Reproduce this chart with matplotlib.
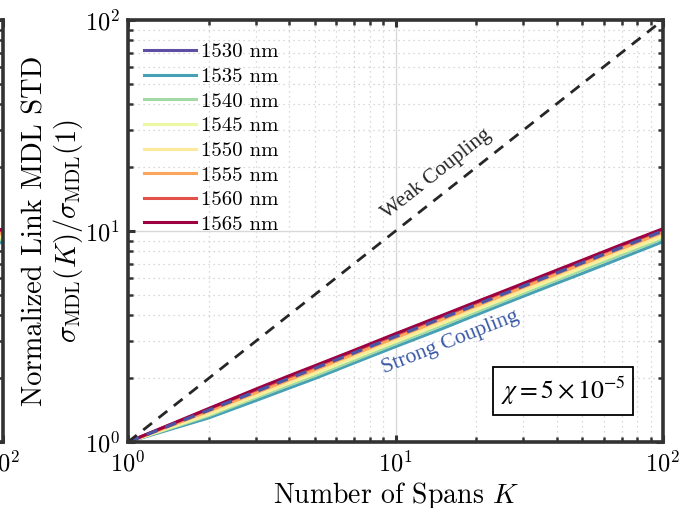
import numpy as np
import matplotlib.pyplot as plt

plt.rcParams['font.family'] = ['cmr10', 'DejaVu Serif']
plt.rcParams['mathtext.fontset'] = 'cm'
plt.rcParams['axes.unicode_minus'] = False
plt.rcParams['axes.formatter.use_mathtext'] = True

# number of spans and normalized MDL std per wavelength
K = [1, 2, 3, 4, 5, 7, 10, 15, 20, 30, 40, 50, 70, 100]
wavelengths = ['1530 nm', '1535 nm', '1540 nm', '1545 nm',
               '1550 nm', '1555 nm', '1560 nm', '1565 nm']
mdl_1530 = [1, 1.42, 1.73, 2.00, 2.23, 2.63, 3.14, 3.84, 4.42, 5.35, 6.00, 6.80, 8.15, 9.70]
mdl_1535 = [1, 1.30, 1.57, 1.80, 2.00, 2.37, 2.83, 3.45, 4.00, 4.90, 5.65, 6.30, 7.45, 8.90]
mdl_1540 = [1, 1.33, 1.62, 1.86, 2.06, 2.44, 2.92, 3.58, 4.13, 5.06, 5.85, 6.53, 7.72, 9.20]
mdl_1545 = [1, 1.35, 1.65, 1.90, 2.11, 2.50, 2.99, 3.66, 4.23, 5.18, 5.98, 6.70, 7.92, 9.40]
mdl_1550 = [1, 1.37, 1.67, 1.92, 2.14, 2.54, 3.03, 3.71, 4.29, 5.25, 6.07, 6.79, 8.03, 9.55]
mdl_1555 = [1, 1.40, 1.71, 1.97, 2.20, 2.61, 3.12, 3.82, 4.41, 5.41, 6.24, 6.98, 8.26, 9.85]
mdl_1560 = [1, 1.43, 1.76, 2.03, 2.27, 2.69, 3.22, 3.95, 4.56, 5.58, 6.45, 7.21, 8.53, 10.15]
mdl_1565 = [1, 1.44, 1.78, 2.06, 2.30, 2.72, 3.26, 3.99, 4.61, 5.64, 6.52, 7.28, 8.62, 10.25]
curves = [mdl_1530, mdl_1535, mdl_1540, mdl_1545, mdl_1550, mdl_1555, mdl_1560, mdl_1565]

# reference slopes (end points on log-log axes)
ref_K = [1, 100]
weak_ref = [1, 100]
strong_ref = [1, 10]

colors = plt.cm.Spectral_r(np.linspace(0, 1, 8))
frame_col = '#333333'

fig = plt.figure(figsize=(6.9, 5.08), dpi=100)
pos = [128 / 690, 1 - 442 / 508, 535 / 690, 422 / 508]
# neighbouring panel, mostly off the left edge
ax0 = fig.add_axes([3 / 690 - pos[2], pos[1], pos[2], pos[3]])
ax = fig.add_axes(pos)


def style(a):
    a.set_xscale('log')
    a.set_yscale('log')
    a.set_xlim(1, 100)
    a.set_ylim(1, 100)
    for s in a.spines.values():
        s.set_linewidth(2.6)
        s.set_color(frame_col)
    a.tick_params(which='both', direction='in', top=True, right=True,
                  color=frame_col, labelsize=17.5, pad=6)
    a.tick_params(which='major', length=5, width=2.2)
    a.tick_params(which='minor', length=3.5, width=1.8)
    a.grid(True, which='major', color='#d8d8d8', lw=1.0, ls='-')
    a.grid(True, which='minor', color='#cccccc', lw=0.9, ls=(0, (1, 3)))
    a.set_axisbelow(True)


style(ax0)
style(ax)
ax0.set_yticklabels([])
for c, y in zip(colors, curves):
    ax0.plot(K, y, color=c, lw=2.2)

for c, y, lab in zip(colors, curves, wavelengths):
    ax.plot(K, y, color=c, lw=2.2, label=lab)
ax.plot(ref_K, strong_ref, color='#4b55a3', lw=2.4, ls=(0, (3.5, 2.5)))
ax.plot(ref_K, weak_ref, color='#262626', lw=2.0, ls=(0, (4, 3)))

ax.set_xlabel('Number of Spans $K$', fontsize=20, labelpad=3)
ax.set_ylabel('Normalized Link MDL STD\n'
              r'$\sigma_{\mathrm{MDL}}(K)/\sigma_{\mathrm{MDL}}(1)$',
              fontsize=20.5, labelpad=0, linespacing=1.08)

ax.legend(loc='upper left', bbox_to_anchor=(0.0, 0.983), frameon=False,
          fontsize=15, handlelength=2.5, labelspacing=0.29,
          handletextpad=0.25, borderaxespad=0.35)

# annotation angles follow the slopes on screen
w_px = pos[2] * 690
h_px = pos[3] * 508
ang_weak = np.degrees(np.arctan(h_px / w_px))
ang_strong = np.degrees(np.arctan(0.5 * h_px / w_px))
ax.text(0.577, 0.635, 'Weak Coupling', transform=ax.transAxes,
        rotation=ang_weak, ha='center', va='center', fontsize=15.5,
        family='Liberation Serif', color='#262626')
ax.text(0.603, 0.235, 'Strong Coupling', transform=ax.transAxes,
        rotation=ang_strong, ha='center', va='center', fontsize=15.8,
        family='Liberation Serif', color='#3b5aa6')

ax.text(0.813, 0.121, r'$\chi = 5\times10^{-5}$', transform=ax.transAxes,
        ha='center', va='center', fontsize=18.5, math_fontfamily='stix',
        bbox=dict(boxstyle='square,pad=0.3', fc='white', ec='black', lw=1.3))

fig.savefig('out.png', dpi=100)
